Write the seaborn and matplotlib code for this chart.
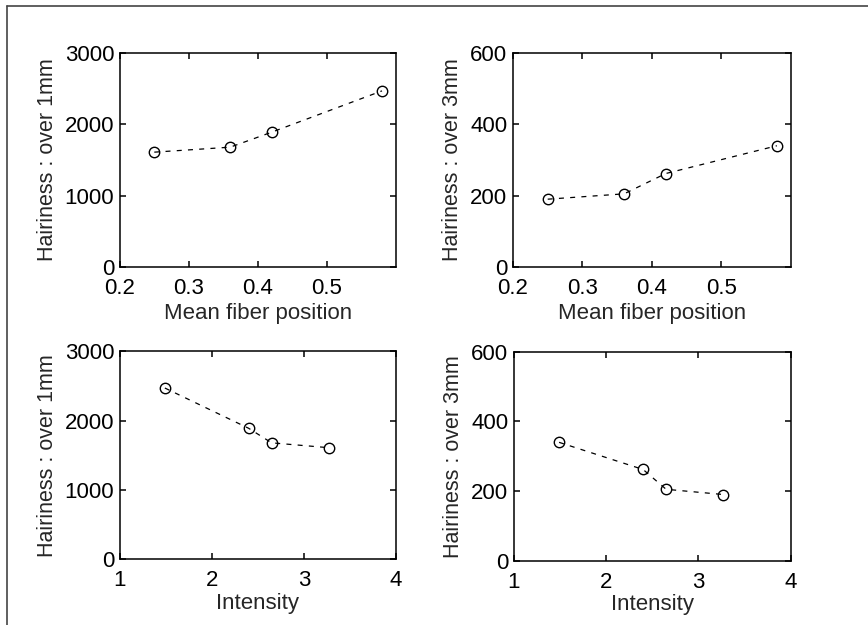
"""Yarn hairiness against mean fiber position and intensity (2x2 grid)."""

import matplotlib

matplotlib.use("Agg")
import matplotlib.pyplot as plt
import pandas as pd
import seaborn as sns
from matplotlib.lines import Line2D

# values
mean_fiber_position = [0.25, 0.36, 0.42, 0.58]
intensity = [3.27, 2.65, 2.40, 1.49]
hairiness_1mm = [1610, 1680, 1890, 2470]
hairiness_3mm = [190, 205, 262, 340]

pos_ticks = [0.2, 0.3, 0.4, 0.5]
int_ticks = [1, 2, 3, 4]
ticks_1mm = [0, 1000, 2000, 3000]
ticks_3mm = [0, 200, 400, 600]

df = pd.DataFrame(
    {
        "pos": mean_fiber_position,
        "intensity": intensity,
        "h1": hairiness_1mm,
        "h3": hairiness_3mm,
    }
)

sns.set_style("ticks")
plt.rcParams["font.family"] = ["Liberation Sans", "DejaVu Sans"]
plt.rcParams["axes.linewidth"] = 1.1

W, H = 868, 625
fig = plt.figure(figsize=(W / 100, H / 100), dpi=100)
fig.patch.set_facecolor("white")

# axes rectangles in figure fractions (left, bottom, width, height)
panels = [
    ((0.138, 0.573, 0.318, 0.342), "pos", "h1", "Mean fiber position",
     "Hairiness : over 1mm", (0.2, 0.6), pos_ticks, (0, 3000), ticks_1mm, 3),
    ((0.591, 0.573, 0.320, 0.342), "pos", "h3", "Mean fiber position",
     "Hairiness : over 3mm", (0.2, 0.6), pos_ticks, (0, 600), ticks_3mm, 3),
    ((0.138, 0.105, 0.318, 0.333), "intensity", "h1", "Intensity",
     "Hairiness : over 1mm", (1, 4), int_ticks, (0, 3000), ticks_1mm, 1),
    ((0.592, 0.103, 0.319, 0.334), "intensity", "h3", "Intensity",
     "Hairiness : over 3mm", (1, 4), int_ticks, (0, 600), ticks_3mm, 1),
]

for rect, xcol, ycol, xlab, ylab, xlim, xt, ylim, yt, lpad in panels:
    ax = fig.add_axes(rect)
    sns.lineplot(
        data=df.sort_values(xcol),
        x=xcol,
        y=ycol,
        color="black",
        linestyle=(0, (4, 5)),
        linewidth=0.9,
        marker="o",
        markersize=7.5,
        markerfacecolor="none",
        markeredgecolor="black",
        markeredgewidth=1.0,
        ax=ax,
    )
    ax.set_xlim(xlim)
    ax.set_ylim(ylim)
    ax.set_xticks(xt)
    ax.set_xticklabels([f"{t:g}" for t in xt])
    ax.set_yticks(yt)
    ax.tick_params(
        direction="in", length=4, width=1.1, top=True, right=True,
        labelsize=16, colors="black",
    )
    ax.tick_params(axis="x", pad=8)
    ax.tick_params(axis="y", pad=4)
    ax.set_xlabel(xlab, fontsize=16, labelpad=lpad)
    ax.set_ylabel(ylab, fontsize=15.5, labelpad=5)
    for sp in ax.spines.values():
        sp.set_visible(True)
        sp.set_color("black")

# scanned page frame: top and left edges only
fig.add_artist(Line2D([7 / W, 1.0], [1 - 6 / H, 1 - 6 / H],
                      transform=fig.transFigure, color="#444444", lw=1.2))
fig.add_artist(Line2D([7 / W, 7 / W], [0.0, 1 - 6 / H],
                      transform=fig.transFigure, color="#444444", lw=1.2))

fig.savefig("out.png", dpi=100)
plt.close(fig)
